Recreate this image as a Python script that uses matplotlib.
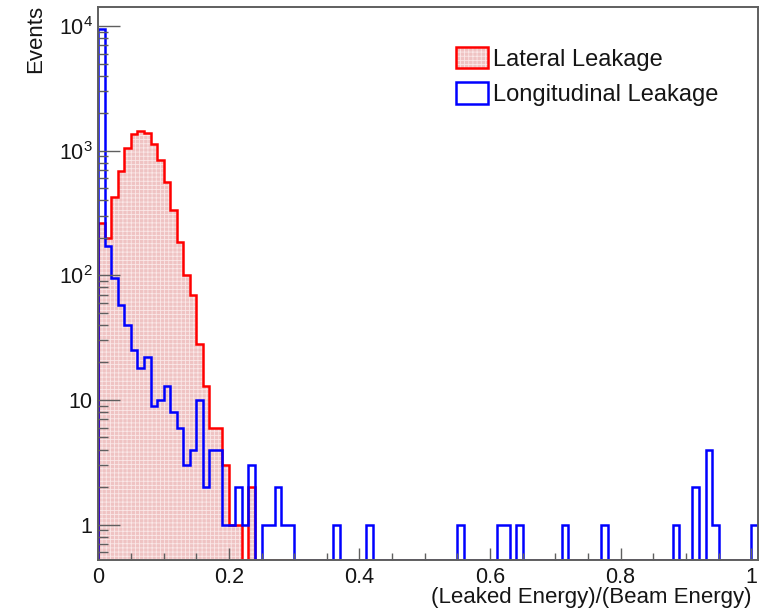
import numpy as np
import matplotlib
matplotlib.use('Agg')
import matplotlib.pyplot as plt
from matplotlib.patches import Patch
from matplotlib.legend_handler import HandlerTuple

plt.rcParams['font.family'] = ['Liberation Sans', 'DejaVu Sans']
plt.rcParams['mathtext.fontset'] = 'custom'
plt.rcParams['mathtext.rm'] = 'Liberation Sans'
plt.rcParams['hatch.linewidth'] = 0.6

# 101 bins of width 0.01 between 0 and 1.01
bin_edges = np.round(np.arange(102) * 0.01, 4)

lateral_head = [265, 201, 428, 687, 1045, 1361, 1439, 1394, 1125, 841, 564, 334,
                186, 101, 70, 28, 13, 6, 6, 3, 1, 1, 0, 2]
longitudinal_head = [9400, 172, 95, 58, 40, 25, 18, 22, 9, 10, 13, 8, 6, 3, 4, 10,
                     2, 4, 4, 1, 1, 2, 1, 3, 0, 1, 1, 2, 1, 1]
# isolated entries further out in the longitudinal tail
tail_bins = [36, 41, 55, 61, 62, 64, 71, 77, 88, 91, 93, 94, 100]
tail_counts = [1, 1, 1, 1, 1, 1, 1, 1, 1, 2, 4, 1, 1]

lateral = np.zeros(101)
lateral[:len(lateral_head)] = lateral_head
longitudinal = np.zeros(101)
longitudinal[:len(longitudinal_head)] = longitudinal_head
longitudinal[tail_bins] = tail_counts

xticks = [0, 0.2, 0.4, 0.6, 0.8, 1.0]
xticklabels = ['0', '0.2', '0.4', '0.6', '0.8', '1']
yticks = [1, 10, 100, 1000, 10000]
yticklabels = ['1', '10', r'$\mathregular{10^{2}}$', r'$\mathregular{10^{3}}$',
               r'$\mathregular{10^{4}}$']

ymin, ymax = 0.52, 1.42e4
pink = '#efc3c3'
hatch_col = '#fae8e8'
frame_col = '#5f5f5f'
text_col = '#151515'

fig = plt.figure(figsize=(7.65, 6.11), dpi=100)
ax = fig.add_axes([0.1285, 0.0835, 0.862, 0.905])

# empty bins sit on the bottom of the frame, as ROOT draws them
lat_draw = np.clip(lateral, ymin, None)
lon_draw = np.clip(longitudinal, ymin, None)

ax.stairs(lat_draw, bin_edges, baseline=ymin, fill=True, facecolor=pink,
          edgecolor=hatch_col, linewidth=0, hatch='++++')
ax.stairs(lat_draw, bin_edges, baseline=ymin, color='#ff0000', linewidth=1.8)
ax.stairs(lon_draw, bin_edges, baseline=ymin, color='#0000ff', linewidth=1.8)

ax.set_yscale('log')
ax.set_xlim(0, 1.01)
ax.set_ylim(ymin, ymax)

ax.set_xticks(xticks)
ax.set_xticklabels(xticklabels)
ax.set_xticks(np.arange(0.05, 1.0, 0.05), minor=True)
ax.set_yticks(yticks)
ax.set_yticklabels(yticklabels)
minor_y = [v * 10.0 ** p for p in range(-1, 4) for v in range(2, 10) if v * 10.0 ** p >= ymin]
ax.set_yticks(minor_y, minor=True)
ax.yaxis.set_minor_formatter(plt.NullFormatter())

ax.tick_params(axis='both', which='both', direction='in', color=frame_col,
               top=False, right=False, labelsize=15.5, labelcolor=text_col)
ax.tick_params(axis='y', which='major', length=15.5, width=1.0, pad=4)
ax.tick_params(axis='y', which='minor', length=7.2, width=1.0)
ax.tick_params(axis='x', which='major', length=8.5, width=1.0, pad=5)
ax.tick_params(axis='x', which='minor', length=4.8, width=1.0)

for sp in ax.spines.values():
    sp.set_color(frame_col)
    sp.set_linewidth(1.4)

ax.set_xlabel('(Leaked Energy)/(Beam Energy)', loc='right', fontsize=16, color=text_col)
ax.xaxis.set_label_coords(0.991, -0.048)
ax.set_ylabel('Events', loc='top', fontsize=16, color=text_col)
ax.yaxis.set_label_coords(-0.079, 1.004)

h_lat = (Patch(facecolor=pink, edgecolor=hatch_col, hatch='++++', linewidth=0),
         Patch(fill=False, edgecolor='#ff0000', linewidth=1.8))
h_lon = Patch(facecolor='white', edgecolor='#0000ff', linewidth=1.8)
leg = ax.legend([h_lat, h_lon], ['Lateral Leakage', 'Longitudinal Leakage'],
                handler_map={tuple: HandlerTuple(ndivide=1, pad=0)},
                loc='upper left', bbox_to_anchor=(0.542, 0.928), frameon=False,
                fontsize=17, borderpad=0, borderaxespad=0, handlelength=1.35,
                handleheight=1.02, labelspacing=0.49, handletextpad=0.22)
for t in leg.get_texts():
    t.set_color(text_col)

fig.savefig('out.png', dpi=100)
plt.close('all')
